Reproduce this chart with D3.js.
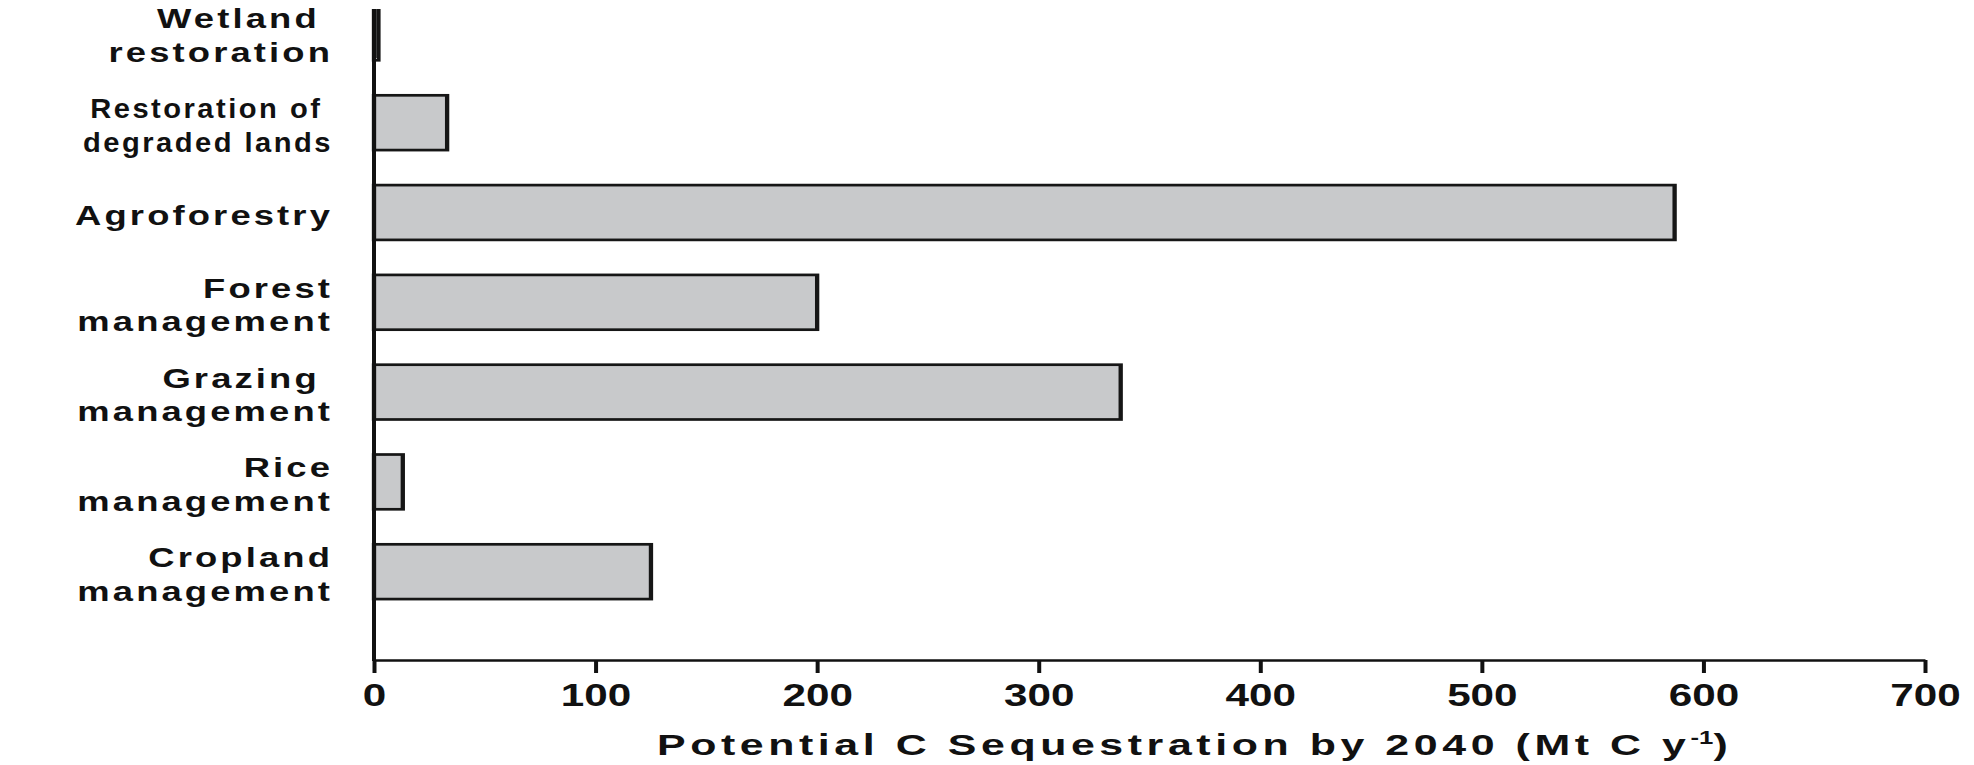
<!DOCTYPE html>
<html>
<head>
<meta charset="utf-8">
<script src="https://cdn.jsdelivr.net/npm/d3@7"></script>
<style>
  html, body { margin: 0; padding: 0; background: #fff; }
  svg { display: block; }
  text { font-family: "Liberation Sans", Arial, Helvetica, sans-serif; fill: #111; }
</style>
</head>
<body>
<svg id="chart" width="1974" height="765"></svg>
<script>
// ---- data ----
const categories = [
  "Wetland restoration",
  "Restoration of degraded lands",
  "Agroforestry",
  "Forest management",
  "Grazing management",
  "Rice management",
  "Cropland management"
];
const labelLines = [
  ["Wetland ", "restoration"],
  ["Restoration of ", "degraded lands"],
  ["Agroforestry"],
  ["Forest", "management"],
  ["Grazing ", "management"],
  ["Rice", "management"],
  ["Cropland", "management"]
];
const values = [2, 33, 587, 200, 337, 13, 125];
const xTicks = [0, 100, 200, 300, 400, 500, 600, 700];
const xTitle = "Potential C Sequestration by 2040 (Mt C y";
const xTitleSup = "-1";

// ---- layout ----
const svg = d3.select("#chart");
const W = 1974, H = 765;
const axisX = 374, axisRight = 1925, axisY = 660, plotTop = 9;
const stretch = 1.6;
// horizontal text stretch per label (the second label is narrower in the source)
const labelStretch = [1.3, 1.04, 1.3, 1.3, 1.3, 1.3, 1.3];

const x = d3.scaleLinear().domain([0, 700]).range([axisX, axisRight]);
const y = d3.scaleBand().domain(categories).range([-12, 616.6])
  .paddingInner(0.39).paddingOuter(0.195);

// clip for bars (chart is cropped at top)
svg.append("defs").append("clipPath").attr("id", "plotClip")
  .append("rect").attr("x", 0).attr("y", plotTop).attr("width", W).attr("height", axisY - plotTop);

const barsOuter = svg.append("g").attr("clip-path", "url(#plotClip)");
const bars = barsOuter.append("g")
  .attr("transform", `translate(${axisX},0) scale(${stretch},1)`);

bars.selectAll("rect").data(categories).enter().append("rect")
  .attr("x", 0)
  .attr("y", d => y(d))
  .attr("width", (d, i) => (x(values[i]) - axisX) / stretch)
  .attr("height", y.bandwidth())
  .attr("fill", "#c8c9cb")
  .attr("stroke", "#161616")
  .attr("stroke-width", 2.7);

// y axis line
svg.append("line")
  .attr("x1", axisX).attr("x2", axisX)
  .attr("y1", plotTop).attr("y2", axisY + 1)
  .attr("stroke", "#111").attr("stroke-width", 4);

// x axis
const xAxis = d3.axisBottom(x).tickValues(xTicks).tickSize(13).tickSizeOuter(0)
  .tickFormat(d3.format("d"));
const gx = svg.append("g").attr("transform", `translate(0,${axisY})`).call(xAxis);
gx.select(".domain").attr("stroke", "#111").attr("stroke-width", 2.7);
gx.selectAll(".tick line").attr("stroke", "#111").attr("stroke-width", 4);
gx.selectAll(".tick text")
  .attr("y", 46).attr("dy", null)
  .attr("transform", "scale(1.32,1)")
  .style("font-family", "'Liberation Sans', Arial, sans-serif")
  .style("font-size", "32px")
  .style("font-weight", "bold")
  .attr("fill", "#111");

// category labels
const labelX = 333;
const lbl = svg.append("g");
categories.forEach((cat, i) => {
  const c = y(cat) + y.bandwidth() / 2;
  const lines = labelLines[i];
  const offs = lines.length === 1 ? [12.5] : [-4.5, 29];
  lines.forEach((ln, j) => {
    lbl.append("text")
      .attr("transform", `translate(${labelX},${c + offs[j]}) scale(${labelStretch[i]},1)`)
      .attr("text-anchor", "end")
      .style("white-space", "pre")
      .style("font-size", "28px")
      .style("font-weight", "bold")
      .style("letter-spacing", "2.4px")
      .text(ln);
  });
});

// x axis title
const t = svg.append("text")
  .attr("transform", "translate(657,755) scale(1.43,1)")
  .attr("text-anchor", "start")
  .style("font-size", "30px")
  .style("font-weight", "bold")
  .style("letter-spacing", "3.2px");
t.append("tspan").text(xTitle);
t.append("tspan").attr("dy", -11).style("font-size", "18px").style("letter-spacing", "0px").text(xTitleSup);
t.append("tspan").attr("dy", 11).text(")");
</script>
</body>
</html>
